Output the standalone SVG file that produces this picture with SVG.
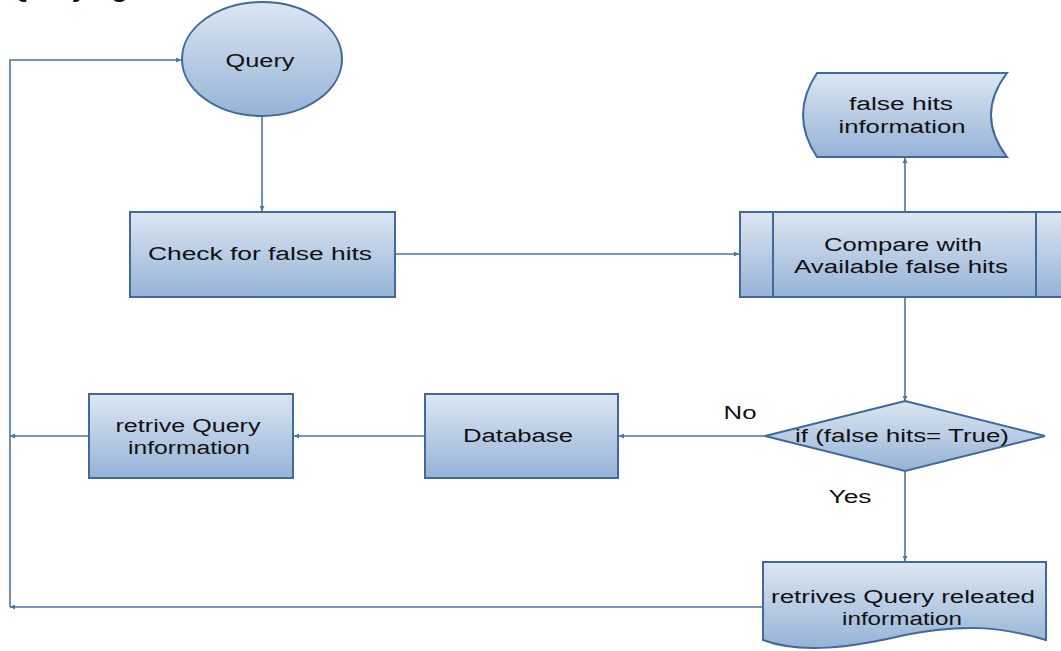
<svg xmlns="http://www.w3.org/2000/svg" width="1061" height="651" viewBox="0 0 1061 651">
<defs>
<linearGradient id="g" x1="0" y1="0" x2="0" y2="1">
<stop offset="0" stop-color="#dce6f2"/>
<stop offset="1" stop-color="#95b3d7"/>
</linearGradient>
<marker id="arr" viewBox="0 0 10 10" refX="10" refY="5" markerWidth="7" markerHeight="5" markerUnits="userSpaceOnUse" orient="auto">
<path d="M0,0 L10,5 L0,10 z" fill="#4a74a8"/>
</marker>
<style>
.s{fill:url(#g);stroke:#41699b;stroke-width:2}
.c{fill:none;stroke:#4a74a8;stroke-width:1.6}
.t{font-family:"Liberation Sans",Arial,sans-serif;font-size:18px;fill:#111;text-anchor:middle}
.h{font-family:"Liberation Sans",Arial,sans-serif;font-size:26px;font-weight:bold;fill:#111}
</style>
</defs>
<text class="h" x="8" y="-3" textLength="120" lengthAdjust="spacingAndGlyphs">Querying</text>
<g id="connectors">
<path class="c" d="M262,116 V211" marker-end="url(#arr)"/>
<path class="c" d="M395,254 H739" marker-end="url(#arr)"/>
<path class="c" d="M905,212 V158" marker-end="url(#arr)"/>
<path class="c" d="M905,297 V401" marker-end="url(#arr)"/>
<path class="c" d="M765,436 H619" marker-end="url(#arr)"/>
<path class="c" d="M425,436 H294" marker-end="url(#arr)"/>
<path class="c" d="M89,436 H10" marker-end="url(#arr)"/>
<path class="c" d="M905,471 V561" marker-end="url(#arr)"/>
<path class="c" d="M763,607 H10" marker-end="url(#arr)"/>
<path class="c" d="M10,607 V60 H181" marker-end="url(#arr)"/>
</g>
<g id="query">
<ellipse class="s" cx="262" cy="59" rx="80" ry="57"/>
<text class="t" x="260" y="67" textLength="69" lengthAdjust="spacingAndGlyphs">Query</text>
</g>
<g id="check">
<rect class="s" x="130" y="212" width="265" height="85"/>
<text class="t" x="260" y="260" textLength="224" lengthAdjust="spacingAndGlyphs">Check for false hits</text>
</g>
<g id="compare">
<rect class="s" x="740" y="212" width="330" height="85"/>
<line class="s" x1="773" y1="212" x2="773" y2="297"/>
<line class="s" x1="1036" y1="212" x2="1036" y2="297"/>
<text class="t" x="903" y="251" textLength="158" lengthAdjust="spacingAndGlyphs">Compare with</text>
<text class="t" x="901" y="273" textLength="214" lengthAdjust="spacingAndGlyphs">Available false hits</text>
</g>
<g id="falsehitsinfo">
<path class="s" d="M817,73 L1007,73 Q975,115 1007,157 L817,157 Q789,115 817,73 Z"/>
<text class="t" x="901" y="110" textLength="104" lengthAdjust="spacingAndGlyphs">false hits</text>
<text class="t" x="902" y="133" textLength="127" lengthAdjust="spacingAndGlyphs">information</text>
</g>
<g id="decision">
<path class="s" d="M905,401 L1045,436 L905,471 L765,436 Z"/>
<text class="t" x="902" y="442" textLength="214" lengthAdjust="spacingAndGlyphs">if (false hits= True)</text>
</g>
<g id="labels">
<text class="t" x="740" y="419" textLength="33" lengthAdjust="spacingAndGlyphs">No</text>
<text class="t" x="850" y="503" textLength="43" lengthAdjust="spacingAndGlyphs">Yes</text>
</g>
<g id="database">
<rect class="s" x="425" y="394" width="193" height="84"/>
<text class="t" x="518" y="442" textLength="110" lengthAdjust="spacingAndGlyphs">Database</text>
</g>
<g id="retrive">
<rect class="s" x="89" y="394" width="204" height="84"/>
<text class="t" x="188" y="432" textLength="145" lengthAdjust="spacingAndGlyphs">retrive Query</text>
<text class="t" x="189" y="454" textLength="122" lengthAdjust="spacingAndGlyphs">information</text>
</g>
<g id="retrives">
<path class="s" d="M763,562 L1046,562 L1046,640 C1000,626 960,624 905,635 C850,648 800,654 763,640 Z"/>
<text class="t" x="903" y="603" textLength="264" lengthAdjust="spacingAndGlyphs">retrives Query releated</text>
<text class="t" x="902" y="625" textLength="120" lengthAdjust="spacingAndGlyphs">information</text>
</g>
</svg>
